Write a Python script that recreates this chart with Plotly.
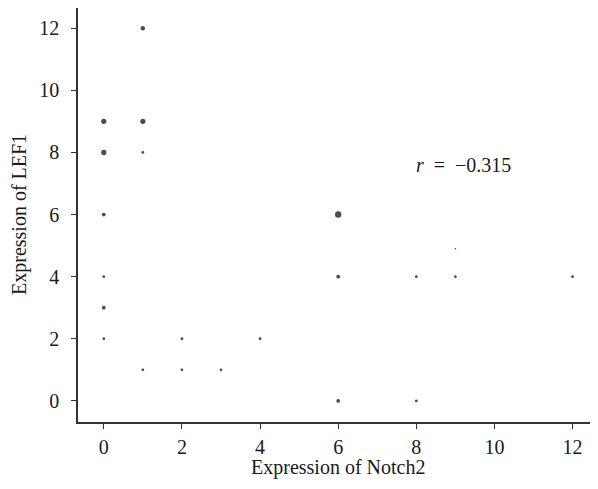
import plotly.graph_objects as go

# Data (Notch2 vs LEF1 expression; weight = relative number of overlapping cases)
notch2 = [0, 0, 1, 1, 6, 0, 0, 6, 6, 0, 0, 1, 1, 2, 2, 3, 4, 8, 8, 9, 12, 9]
lef1   = [9, 8, 9, 12, 6, 6, 3, 4, 0, 4, 2, 8, 1, 2, 1, 1, 2, 4, 0, 4, 4, 4.9]
weight = [4, 4, 4, 3, 5, 2, 2, 2, 2, 1, 1, 1, 1, 1, 1, 1, 1, 1, 1, 1, 1, 0.5]

x_ticks = [0, 2, 4, 6, 8, 10, 12]
y_ticks = [0, 2, 4, 6, 8, 10, 12]
r_value = -0.315

size_map = {0.5: 1.6, 1: 2.8, 2: 3.8, 3: 4.4, 4: 5.2, 5: 6.4}
sizes = [size_map[w] for w in weight]

FONT = "Liberation Serif, Times New Roman, serif"
TXT = "#1a1a1a"

# figure is offset 8px by the page body margin; size it to fill the window
W, H = 590, 481
ML, MR, MT, MB = 70, 0, 0, 67
PW, PH = W - ML - MR, H - MT - MB

fig = go.Figure()
fig.add_trace(go.Scatter(
    x=notch2, y=lef1, mode="markers",
    marker=dict(size=sizes, color="black", line=dict(width=0)),
    hoverinfo="x+y", showlegend=False,
))

fig.add_annotation(
    x=9.2, y=7.6, xref="x", yref="y",
    text="<i>r</i>  =  \u2212" + f"{abs(r_value):.3f}",
    showarrow=False, font=dict(family=FONT, size=20, color=TXT),
)
fig.add_annotation(
    x=(330 - ML) / PW, y=(PH - 459) / PH, xref="paper", yref="paper",
    xanchor="center", yanchor="middle",
    text="Expression of Notch2", showarrow=False,
    font=dict(family=FONT, size=20, color=TXT),
)
fig.add_annotation(
    x=(11 - ML) / PW, y=(PH - 207) / PH, xref="paper", yref="paper",
    xanchor="center", yanchor="middle",
    text="Expression of LEF1", showarrow=False, textangle=-90,
    font=dict(family=FONT, size=20, color=TXT),
)

axis_common = dict(
    showgrid=False, zeroline=False, showline=True, linecolor="#333", linewidth=1.6,
    ticks="outside", ticklen=5, tickwidth=1.3, tickcolor="#333",
    tickfont=dict(family=FONT, size=20, color=TXT),
    mirror=False, automargin=False,
)

fig.update_layout(
    width=W, height=H,
    margin=dict(l=ML, r=MR, t=MT, b=MB),
    paper_bgcolor="white", plot_bgcolor="white",
    xaxis=dict(range=[-0.66, 12.65], tickvals=x_ticks, ticklabelstandoff=1, **axis_common),
    yaxis=dict(range=[-0.68, 12.65], tickvals=y_ticks, ticklabelstandoff=8, **axis_common),
    font=dict(family=FONT),
)

fig.write_html("out.html")
